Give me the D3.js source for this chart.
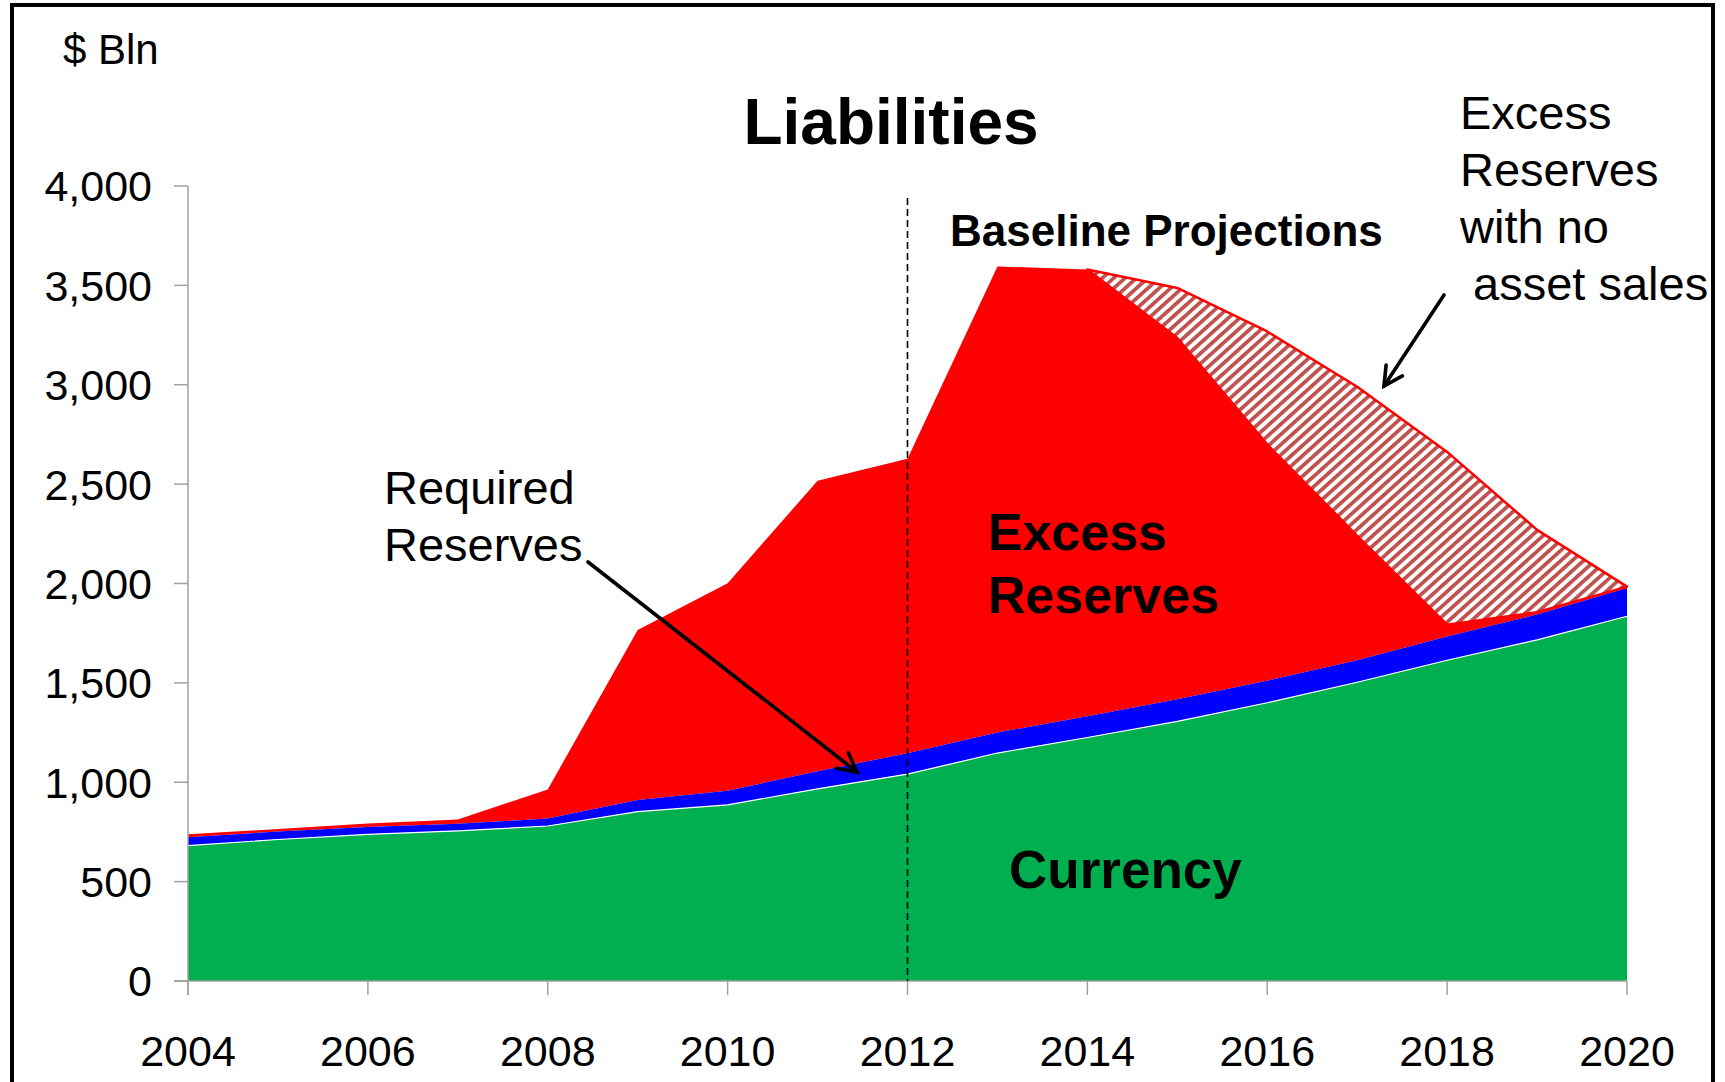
<!DOCTYPE html>
<html>
<head>
<meta charset="utf-8">
<script src="https://cdn.jsdelivr.net/npm/d3@7"></script>
<style>
  html, body { margin: 0; padding: 0; background: #ffffff; }
  svg { display: block; }
  text { font-family: "Liberation Sans", Arial, Helvetica, sans-serif; fill: #000; }
</style>
</head>
<body>
<svg id="chart" width="1725" height="1082"></svg>
<script>
// Fed balance sheet liabilities, $ billions (actual through 2012, baseline projections after)
const years = [2004, 2005, 2006, 2007, 2008, 2009, 2010, 2011, 2012,
               2013, 2014, 2015, 2016, 2017, 2018, 2019, 2020];
const currency         = [681, 712, 738, 755, 780, 852, 886, 967, 1041, 1147, 1225, 1306, 1400, 1503, 1614, 1716, 1835];
const requiredReserves = [42, 40, 37, 36, 37, 59, 71, 88, 105, 103, 107, 111, 111, 111, 119, 128, 142];
const excessReserves   = [15, 13, 18, 22, 147, 855, 1044, 1462, 1482, 2345, 2248, 1818, 1189, 626, 60, 12, 7];

// Additional excess reserves if the Fed makes no asset sales
const noSalesYears = [2014, 2015, 2016, 2017, 2018, 2019, 2020];
const extraExcessNoSales = [0, 252, 568, 750, 869, 414, 0];

const projectionStart = 2012;
const yTicks = [0, 500, 1000, 1500, 2000, 2500, 3000, 3500, 4000];
const xTicks = [2004, 2006, 2008, 2010, 2012, 2014, 2016, 2018, 2020];

const colors = {
  currency: "#00b050",
  required: "#0000ff",
  excess: "#ff0000",
  hatch: "#c0504d",
  axis: "#a0a0a0"
};

const svg = d3.select("#chart");

// outer frame
svg.append("rect")
  .attr("x", 12).attr("y", 5)
  .attr("width", 1701).attr("height", 1100)
  .attr("fill", "none").attr("stroke", "#000").attr("stroke-width", 4);

const x = d3.scaleLinear().domain([2004, 2020]).range([188, 1627]);
const y = d3.scaleLinear().domain([0, 4000]).range([981, 186]);

const rows = years.map((yr, i) => ({
  year: yr,
  currency: currency[i],
  required: requiredReserves[i],
  excess: excessReserves[i]
}));

const stack = d3.stack().keys(["currency", "required", "excess"]);
const series = stack(rows);

const area = d3.area()
  .x(d => x(d.data.year))
  .y0(d => y(d[0]))
  .y1(d => y(d[1]));

// hatch pattern for the no-asset-sales band
const defs = svg.append("defs");
const pat = defs.append("pattern")
  .attr("id", "hatch")
  .attr("patternUnits", "userSpaceOnUse")
  .attr("width", 7.6).attr("height", 7.6)
  .attr("patternTransform", "rotate(48)");
pat.append("rect").attr("width", 7.6).attr("height", 7.6).attr("fill", "#fff");
pat.append("rect").attr("x", 0).attr("y", 0).attr("width", 3.7).attr("height", 7.6).attr("fill", colors.hatch);

const fills = { currency: colors.currency, required: colors.required, excess: colors.excess };

const plot = svg.append("g");

// excess reserves drawn first so its outline sits underneath
series.slice().reverse().forEach(s => {
  plot.append("path")
    .datum(s)
    .attr("d", area)
    .attr("fill", fills[s.key]);
});

// thin white separator along the top of the currency layer
plot.append("path")
  .datum(series[0])
  .attr("d", d3.line().x(d => x(d.data.year)).y(d => y(d[1])))
  .attr("fill", "none").attr("stroke", "#fff").attr("stroke-width", 1.2);

// no-asset-sales band stacked on the baseline total
const totalByYear = new Map(rows.map(r => [r.year, r.currency + r.required + r.excess]));
const noSales = noSalesYears.map((yr, i) => ({
  year: yr,
  base: totalByYear.get(yr),
  top: totalByYear.get(yr) + extraExcessNoSales[i]
}));

plot.append("path")
  .datum(noSales)
  .attr("d", d3.area().x(d => x(d.year)).y0(d => y(d.base)).y1(d => y(d.top)))
  .attr("fill", "url(#hatch)")
  .attr("stroke", colors.excess).attr("stroke-width", 2.5).attr("stroke-linejoin", "round");

// axes
const axisG = svg.append("g");
axisG.append("line")
  .attr("x1", x(2004)).attr("x2", x(2004))
  .attr("y1", y(4000)).attr("y2", y(0) + 14)
  .attr("stroke", colors.axis).attr("stroke-width", 1.5);
axisG.append("line")
  .attr("x1", x(2004) - 14).attr("x2", x(2020))
  .attr("y1", y(0)).attr("y2", y(0))
  .attr("stroke", colors.axis).attr("stroke-width", 1.5);

yTicks.forEach(v => {
  axisG.append("line")
    .attr("x1", x(2004) - 14).attr("x2", x(2004))
    .attr("y1", y(v)).attr("y2", y(v))
    .attr("stroke", colors.axis).attr("stroke-width", 1.5);
  axisG.append("text")
    .attr("x", x(2004) - 36).attr("y", y(v))
    .attr("dy", "0.36em")
    .attr("text-anchor", "end")
    .attr("font-size", 43)
    .text(d3.format(",")(v));
});

xTicks.forEach(v => {
  axisG.append("line")
    .attr("x1", x(v)).attr("x2", x(v))
    .attr("y1", y(0)).attr("y2", y(0) + 14)
    .attr("stroke", colors.axis).attr("stroke-width", 1.5);
  axisG.append("text")
    .attr("x", x(v)).attr("y", 1066)
    .attr("text-anchor", "middle")
    .attr("font-size", 43)
    .text(v);
});

// projection divider
svg.append("line")
  .attr("x1", x(projectionStart)).attr("x2", x(projectionStart))
  .attr("y1", 198).attr("y2", y(0))
  .attr("stroke", "#000").attr("stroke-width", 1.6)
  .attr("stroke-dasharray", "7,4");

// titles and labels
svg.append("text").attr("x", 63).attr("y", 64).attr("font-size", 42).text("$ Bln");
svg.append("text").attr("x", 891).attr("y", 144).attr("text-anchor", "middle")
  .attr("font-size", 64).attr("font-weight", "bold").text("Liabilities");
svg.append("text").attr("x", 950).attr("y", 246)
  .attr("font-size", 44).attr("font-weight", "bold").text("Baseline Projections");

svg.append("text").attr("x", 988).attr("y", 550)
  .attr("font-size", 52).attr("font-weight", "bold").text("Excess");
svg.append("text").attr("x", 988).attr("y", 613)
  .attr("font-size", 52).attr("font-weight", "bold").text("Reserves");
svg.append("text").attr("x", 1009).attr("y", 888)
  .attr("font-size", 53).attr("font-weight", "bold").text("Currency");

svg.append("text").attr("x", 384).attr("y", 504).attr("font-size", 47).text("Required");
svg.append("text").attr("x", 384).attr("y", 561).attr("font-size", 47).text("Reserves");

const noteLines = ["Excess", "Reserves", "with no", "\u00a0asset sales"];
noteLines.forEach((t, i) => {
  svg.append("text").attr("x", 1460).attr("y", 129 + i * 57)
    .attr("font-size", 47).text(t);
});

// arrows with open heads
function arrow(x1, y1, x2, y2) {
  const g = svg.append("g").attr("stroke", "#000").attr("stroke-width", 3.6)
    .attr("fill", "none").attr("stroke-linecap", "round").attr("stroke-linejoin", "miter");
  g.append("line").attr("x1", x1).attr("y1", y1).attr("x2", x2).attr("y2", y2);
  const ang = Math.atan2(y2 - y1, x2 - x1);
  const len = 21, spread = Math.PI / 6.5;
  const p1 = [x2 - len * Math.cos(ang - spread), y2 - len * Math.sin(ang - spread)];
  const p2 = [x2 - len * Math.cos(ang + spread), y2 - len * Math.sin(ang + spread)];
  g.append("polyline").attr("points", `${p1} ${x2},${y2} ${p2}`);
}
arrow(588, 562, 857, 772);
arrow(1444, 295, 1384, 386);
</script>
</body>
</html>
